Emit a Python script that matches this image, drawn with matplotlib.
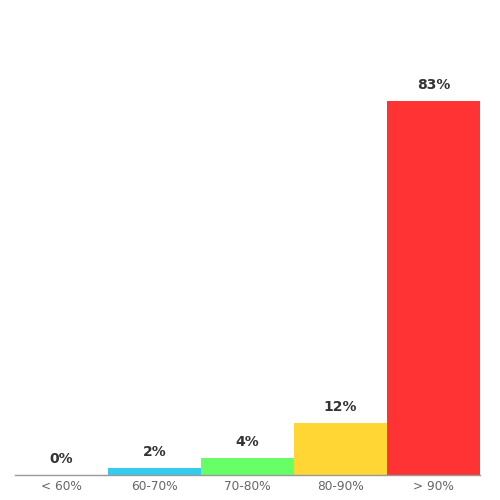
import matplotlib
matplotlib.use("Agg")
import matplotlib.pyplot as plt

categories = ["< 60%", "60-70%", "70-80%", "80-90%", "> 90%"]
values = [0.0, 1.6, 3.8, 11.6, 83.1]
labels = ["0%", "2%", "4%", "12%", "83%"]
colors = ["#33ccee", "#33ccee", "#66ff66", "#ffd633", "#ff3333"]

fig = plt.figure(figsize=(5, 5), dpi=100)
ax = fig.add_axes([0.03, 0.05, 0.93, 0.90])
x = list(range(len(categories)))
ax.bar(x, values, width=1.0, color=colors, linewidth=0)
for xi, v, lab in zip(x, values, labels):
    ax.annotate(lab, (xi, v), xytext=(0, 6.5), textcoords="offset points",
                ha="center", va="bottom", fontsize=10, fontweight="bold", color="#333333")
ax.set_xlim(-0.5, len(categories) - 0.5)
ax.set_ylim(0, 100)
ax.set_xticks(x)
ax.set_xticklabels(categories, fontsize=8.7, color="#666666")
ax.tick_params(axis="x", length=0, pad=3.5)
ax.set_yticks([])
for s in ["top", "right", "left"]:
    ax.spines[s].set_visible(False)
ax.spines["bottom"].set_color("#999999")
ax.spines["bottom"].set_linewidth(1.0)
fig.savefig("out.png", dpi=100)
